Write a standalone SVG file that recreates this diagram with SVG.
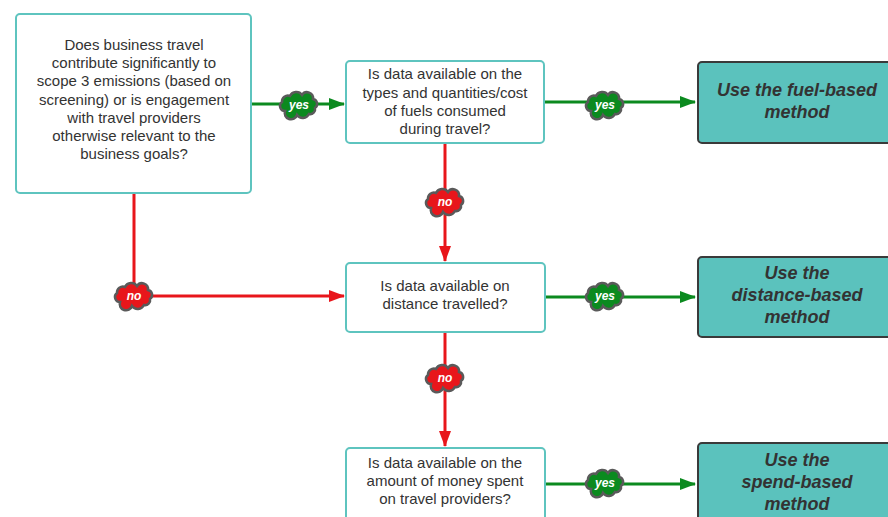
<svg xmlns="http://www.w3.org/2000/svg" xmlns:xlink="http://www.w3.org/1999/xlink" width="888" height="517" viewBox="0 0 888 517">
<style>
.q{fill:#fff;stroke:#5ec4bf;stroke-width:2}
.r{fill:#5bc2bd;stroke:#3a3a3a;stroke-width:2}
.qt{font-family:"Liberation Sans",Arial,sans-serif;font-size:15px;fill:#333;text-anchor:middle}
.rt{font-family:"Liberation Sans",Arial,sans-serif;font-size:18px;font-weight:bold;font-style:italic;fill:#333;text-anchor:middle}
.g{stroke:#0b8a1f;stroke-width:3;fill:none}
.rd{stroke:#e8161b;stroke-width:3;fill:none}
.cg{fill:#0b8a1f;stroke:#5a5a5a;stroke-width:2.5}
.cr{fill:#e8161b;stroke:#5a5a5a;stroke-width:2.5}
.lt{font-family:"Liberation Sans",Arial,sans-serif;font-size:12px;font-weight:bold;font-style:italic;fill:#fff;text-anchor:middle}
</style>
<defs>
<marker id="ag" markerWidth="16" markerHeight="12" refX="15" refY="6" orient="auto" markerUnits="userSpaceOnUse"><path d="M0,0 L16,6 L0,12 z" fill="#0b8a1f"/></marker>
<marker id="ar" markerWidth="16" markerHeight="12" refX="15" refY="6" orient="auto" markerUnits="userSpaceOnUse"><path d="M0,0 L16,6 L0,12 z" fill="#e8161b"/></marker>
<path id="cloud" d="M-14,6 a5,5 0 0 1 -3,-9 a6,6 0 0 1 8,-6 a7,7 0 0 1 12,-1 a6,6 0 0 1 11,4 a5,5 0 0 1 2,9 a5,5 0 0 1 -6,6 a7,7 0 0 1 -12,1 a6,6 0 0 1 -12,-4 z"/>
</defs>
<g id="connectors">
<line class="g" x1="252" y1="104" x2="344" y2="104" marker-end="url(#ag)"/>
<line class="g" x1="545" y1="102" x2="695" y2="102" marker-end="url(#ag)"/>
<line class="rd" x1="445" y1="144" x2="445" y2="261" marker-end="url(#ar)"/>
<polyline class="rd" points="134,194 134,296 344,296" marker-end="url(#ar)"/>
<line class="g" x1="546" y1="297" x2="695" y2="297" marker-end="url(#ag)"/>
<line class="rd" x1="445" y1="333" x2="445" y2="446" marker-end="url(#ar)"/>
<line class="g" x1="546" y1="484" x2="695" y2="484" marker-end="url(#ag)"/>
<use href="#cloud" class="cg" x="299" y="105"/><text class="lt" x="299" y="109">yes</text>
<use href="#cloud" class="cg" x="605" y="105"/><text class="lt" x="605" y="109">yes</text>
<use href="#cloud" class="cr" x="445" y="202"/><text class="lt" x="445" y="206">no</text>
<use href="#cloud" class="cr" x="134" y="296"/><text class="lt" x="134" y="300">no</text>
<use href="#cloud" class="cg" x="605" y="296"/><text class="lt" x="605" y="300">yes</text>
<use href="#cloud" class="cr" x="445" y="378"/><text class="lt" x="445" y="382">no</text>
<use href="#cloud" class="cg" x="605" y="483"/><text class="lt" x="605" y="487">yes</text>
</g>
<g id="n1">
<rect class="q" x="16" y="14" width="235" height="179" rx="4"/>
<text class="qt"><tspan x="134" y="50">Does business travel</tspan><tspan x="134" y="68">contribute significantly to</tspan><tspan x="134" y="86">scope 3 emissions (based on</tspan><tspan x="134" y="105">screening) or is engagement</tspan><tspan x="134" y="123">with travel providers</tspan><tspan x="134" y="141">otherwise relevant to the</tspan><tspan x="134" y="159">business goals?</tspan></text>
</g>
<g id="n2">
<rect class="q" x="346" y="61" width="198" height="82" rx="4"/>
<text class="qt"><tspan x="445" y="79">Is data available on the</tspan><tspan x="445" y="98">types and quantities/cost</tspan><tspan x="445" y="116">of fuels consumed</tspan><tspan x="445" y="134">during travel?</tspan></text>
</g>
<g id="n3">
<rect class="q" x="346" y="263" width="199" height="69" rx="4"/>
<text class="qt"><tspan x="445" y="291">Is data available on</tspan><tspan x="445" y="309">distance travelled?</tspan></text>
</g>
<g id="n4">
<rect class="q" x="346" y="448" width="199" height="80" rx="4"/>
<text class="qt"><tspan x="445" y="468">Is data available on the</tspan><tspan x="445" y="486">amount of money spent</tspan><tspan x="445" y="504">on travel providers?</tspan></text>
</g>
<g id="m1">
<rect class="r" x="698" y="62" width="200" height="81" rx="4"/>
<text class="rt"><tspan x="797" y="96">Use the fuel-based</tspan><tspan x="797" y="118">method</tspan></text>
</g>
<g id="m2">
<rect class="r" x="698" y="257" width="200" height="80" rx="4"/>
<text class="rt"><tspan x="797" y="279">Use the</tspan><tspan x="797" y="301">distance-based</tspan><tspan x="797" y="323">method</tspan></text>
</g>
<g id="m3">
<rect class="r" x="698" y="443" width="200" height="90" rx="4"/>
<text class="rt"><tspan x="797" y="466">Use the</tspan><tspan x="797" y="488">spend-based</tspan><tspan x="797" y="510">method</tspan></text>
</g>
</svg>
